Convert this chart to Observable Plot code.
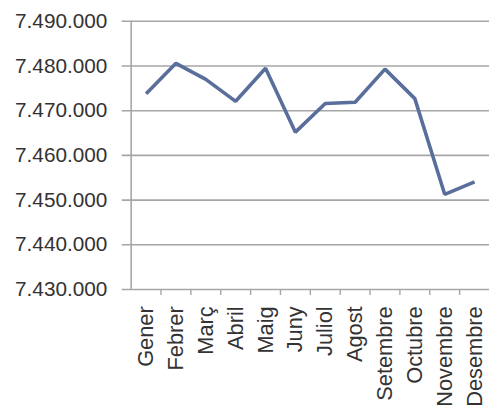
<!DOCTYPE html>
<html>
<head>
<meta charset="utf-8">
<script src="https://cdn.jsdelivr.net/npm/d3@7"></script>
<script src="https://cdn.jsdelivr.net/npm/@observablehq/plot@0.6"></script>
<style>
  html, body { margin: 0; padding: 0; background: #fff; overflow: hidden; }
  #chart svg { display: block; }
</style>
</head>
<body>
<div id="chart"></div>
<script>
const months = ["Gener","Febrer","Març","Abril","Maig","Juny","Juliol","Agost","Setembre","Octubre","Novembre","Desembre"];
const values = [7473800, 7480600, 7477000, 7472100, 7479500, 7465200, 7471600, 7471900, 7479300, 7472700, 7451300, 7454100];
const yTicks = [7430000, 7440000, 7450000, 7460000, 7470000, 7480000, 7490000];

const data = months.map((m, i) => ({idx: i + 0.5, month: m, value: values[i]}));
const fmt = d3.formatLocale({decimal: ",", thousands: ".", grouping: [3], currency: ["", ""]}).format(",d");

const font = "'Liberation Sans', Arial, sans-serif";
const grey = "#a6a6a6";

const chart = Plot.plot({
  width: 494,
  height: 412,
  marginLeft: 132,
  marginRight: 0,
  marginTop: 21,
  marginBottom: 120,
  style: {fontFamily: font, background: "#fff", color: "#333"},
  x: {domain: [0, 12], axis: null, label: null},
  y: {domain: [7430000, 7490000], axis: null, label: null},
  marks: [
    Plot.ruleY(yTicks, {x1: -0.3, x2: 12, stroke: grey, strokeWidth: 1.6}),
    Plot.ruleX([0], {stroke: grey, strokeWidth: 1.6}),
    Plot.axisX(d3.range(1, 12), {tickSize: 6, tickFormat: () => "", stroke: grey, strokeWidth: 1.4, label: null}),
    Plot.axisX(data.map(d => d.idx), {
      tickSize: 0, tickPadding: 17, tickRotate: -90, fontSize: 22, label: null,
      tickFormat: (d) => months[Math.floor(d)], fill: "#333"
    }),
    Plot.axisY(yTicks, {
      tickSize: 0, tickPadding: 24, fontSize: 21, tickFormat: fmt, fill: "#333", label: null
    }),
    Plot.line(data, {x: "idx", y: "value", stroke: "#5a6e9c", strokeWidth: 3.6, strokeLinejoin: "miter", strokeLinecap: "butt"})
  ]
});
document.getElementById("chart").appendChild(chart);
</script>
</body>
</html>
